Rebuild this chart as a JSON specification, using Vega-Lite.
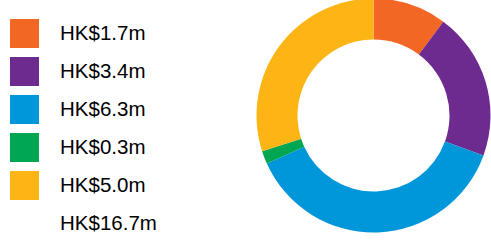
{
  "$schema": "https://vega.github.io/schema/vega-lite/v6.json",
  "autosize": "none",
  "width": 235,
  "height": 231,
  "padding": {"left": 256, "top": 0, "right": 0, "bottom": 15},
  "background": "white",
  "config": {"view": {"stroke": null}},
  "data": {
    "values": [
      {"idx": 1, "label": "HK$1.7m", "value": 1.7},
      {"idx": 2, "label": "HK$3.4m", "value": 3.4},
      {"idx": 3, "label": "HK$6.3m", "value": 6.3},
      {"idx": 4, "label": "HK$0.3m", "value": 0.3},
      {"idx": 5, "label": "HK$5.0m", "value": 5.0},
      {"idx": 6, "label": "HK$16.7m", "value": 0}
    ]
  },
  "mark": {"type": "arc", "innerRadius": 76, "outerRadius": 117, "stroke": null},
  "encoding": {
    "theta": {"field": "value", "type": "quantitative", "stack": true},
    "order": {"field": "idx", "type": "quantitative"},
    "color": {
      "field": "label",
      "type": "nominal",
      "scale": {
        "domain": ["HK$1.7m", "HK$3.4m", "HK$6.3m", "HK$0.3m", "HK$5.0m", "HK$16.7m"],
        "range": ["#F26724", "#6D2B8F", "#0096DA", "#00A651", "#FDB515", "transparent"]
      },
      "legend": {
        "title": null,
        "orient": "none",
        "legendX": -246,
        "legendY": 19,
        "symbolType": "square",
        "symbolSize": 841,
        "symbolStrokeWidth": 0,
        "labelFont": "Liberation Sans",
        "labelFontSize": 20.5,
        "labelColor": "#000000",
        "labelOffset": 21,
        "rowPadding": 9,
        "padding": 0,
        "labelLimit": 300
      }
    }
  }
}
